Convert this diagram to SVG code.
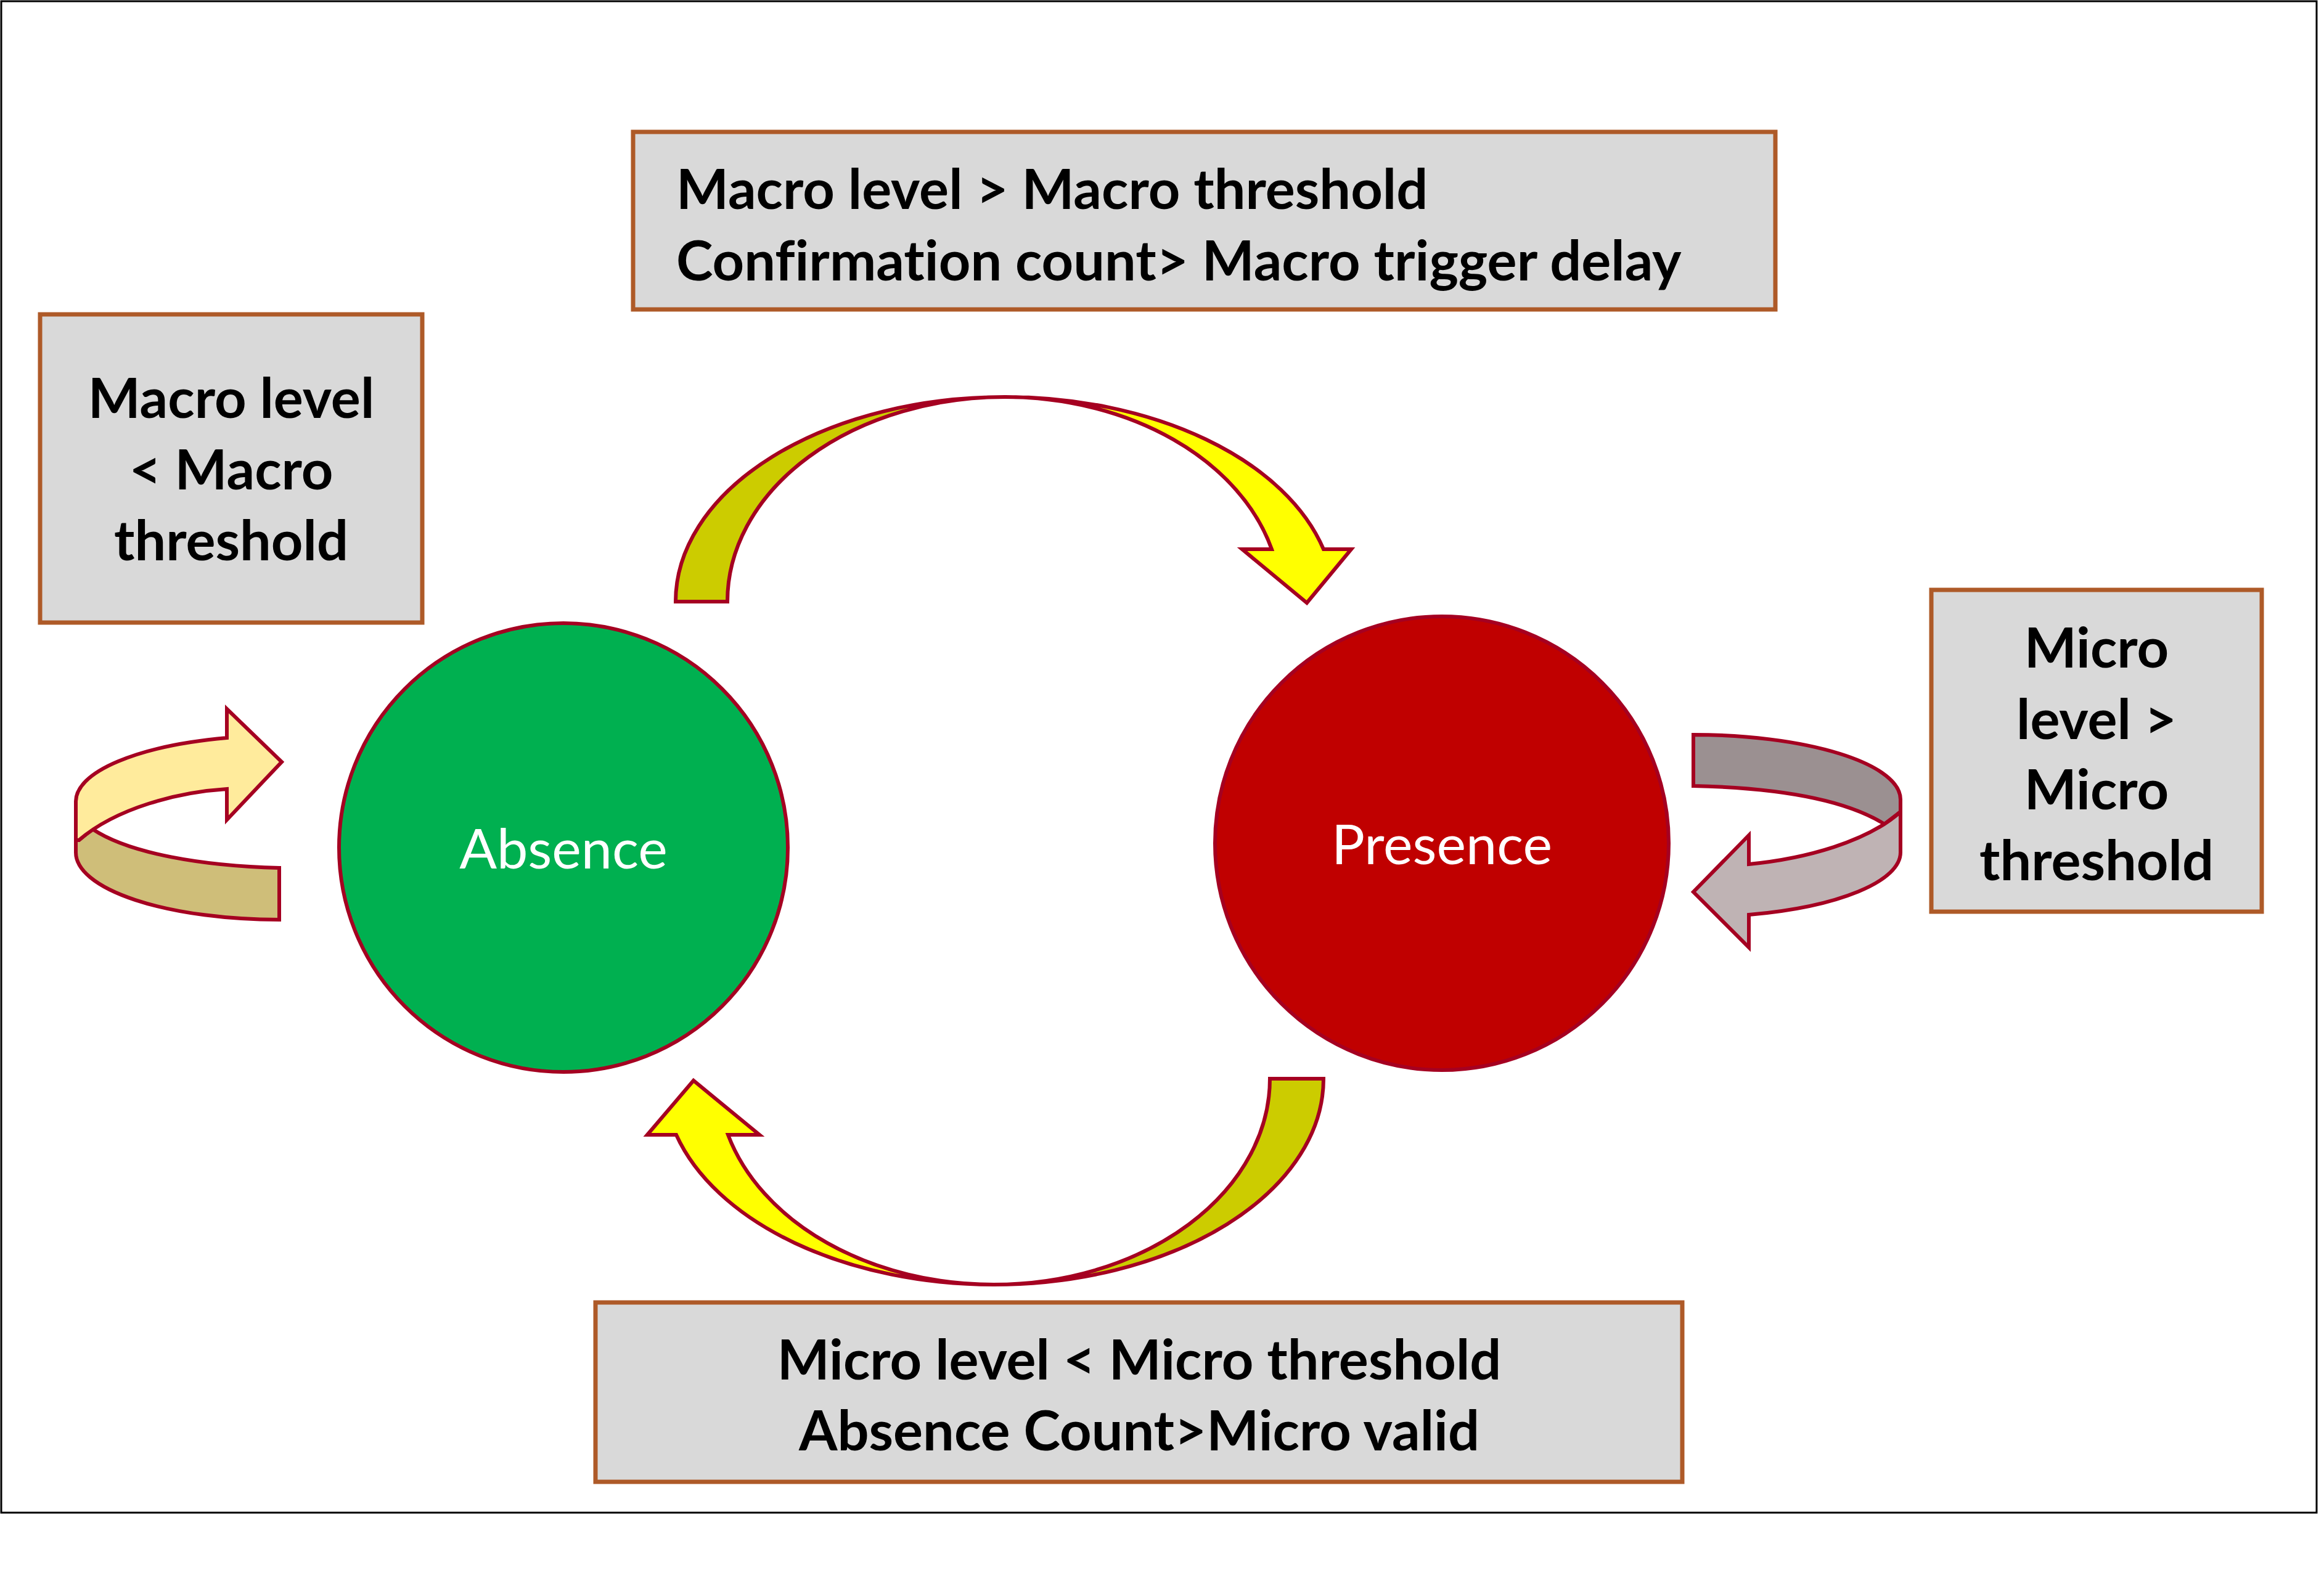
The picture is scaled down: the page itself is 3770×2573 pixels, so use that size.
<svg xmlns="http://www.w3.org/2000/svg" width="3770" height="2573" viewBox="0 0 3770 2573">
<style>
.box{fill:#D9D9D9;stroke:#AE5A28;stroke-width:7}
.lbl{font-family:Lato,"Source Sans Pro","Liberation Sans",sans-serif;font-weight:700;font-size:90px;fill:#000;font-variant-ligatures:none;font-feature-settings:"liga" 0}
.st{font-family:Lato,"Source Sans Pro","Liberation Sans",sans-serif;font-weight:400;font-size:90px;fill:#FFFFFF;text-anchor:middle}
.node{stroke:#A50021;stroke-width:6}
.arr{stroke:#A50021;stroke-width:6;stroke-linejoin:miter;stroke-miterlimit:4}
</style>
<rect x="0" y="0" width="3770" height="2573" fill="#FFFFFF"/>
<rect x="2" y="2" width="3756" height="2452" fill="none" stroke="#000" stroke-width="3"/>

<g id="box-top">
<rect class="box" x="1027" y="214" width="1853" height="288"/>
<text class="lbl" x="1097" y="339">Macro level &gt; Macro threshold</text>
<text class="lbl" x="1097" y="455">Confirmation count&gt; Macro trigger delay</text>
</g>
<g id="box-left">
<rect class="box" x="65" y="510" width="620" height="500"/>
<text class="lbl" x="375" y="678" text-anchor="middle">Macro level</text>
<text class="lbl" x="375" y="794" text-anchor="middle">&lt; Macro</text>
<text class="lbl" x="375" y="909" text-anchor="middle">threshold</text>
</g>
<g id="box-right">
<rect class="box" x="3133" y="957" width="536" height="522"/>
<text class="lbl" x="3401" y="1083" text-anchor="middle">Micro</text>
<text class="lbl" x="3401" y="1199" text-anchor="middle">level &gt;</text>
<text class="lbl" x="3401" y="1313" text-anchor="middle">Micro</text>
<text class="lbl" x="3401" y="1428" text-anchor="middle">threshold</text>
</g>
<g id="box-bottom">
<rect class="box" x="966" y="2113" width="1763" height="291"/>
<text class="lbl" x="1848" y="2238" text-anchor="middle">Micro level &lt; Micro threshold</text>
<text class="lbl" x="1848" y="2353" text-anchor="middle">Absence Count&gt;Micro valid</text>
</g>

<g id="absence">
<circle class="node" cx="914" cy="1375" r="364" fill="#00B050"/>
<text class="st" x="914" y="1409">Absence</text>
</g>
<g id="presence">
<circle class="node" cx="2339" cy="1368" r="368" fill="#C00000"/>
<text class="st" x="2339" y="1402">Presence</text>
</g>

<g id="connectors">
<g id="arrow-absence-to-presence">
<path class="arr" fill="#CCCC00" d="M1096,976 A534,332 0 0 1 1630,644 A450,332 0 0 0 1180,976 Z"/>
<path class="arr" fill="#FFFF00" d="M1630,644 A534,332 0 0 1 2147,891 L2192,891 L2120,978 L2015,891 L2063,891 A448,332 0 0 0 1630,644 Z"/>
</g>
<g id="arrow-presence-to-absence">
<path class="arr" fill="#CCCC00" d="M2147,1750 A535,334 0 0 1 1612,2084 A448,334 0 0 0 2060,1750 Z"/>
<path class="arr" fill="#FFFF00" d="M1612,2084 A535,334 0 0 1 1097,1841 L1050,1841 L1125,1753 L1232,1841 L1181,1841 A448,334 0 0 0 1612,2084 Z"/>
</g>
<g id="loop-absence">
<path class="arr" fill="#CFBE79" d="M123,1363 L123,1383 A330,109 0 0 0 453,1492 L453,1408 C330,1405 210,1385 150,1345 L128,1363 Z"/>
<path class="arr" fill="#FFEB9C" d="M123,1363 L123,1300 A334,107 0 0 1 368,1197 L368,1150 L457,1236 L368,1330 L368,1280 C290,1285 190,1310 128,1363 Z"/>
</g>
<g id="loop-presence">
<path class="arr" fill="#9B9091" d="M2747,1192 A336,105 0 0 1 3083,1297 L3083,1317 L3057,1337 C2990,1295 2880,1278 2747,1275 Z"/>
<path class="arr" fill="#BFB3B4" d="M3083,1317 L3083,1383 A336,105 0 0 1 2837,1484 L2837,1537 L2747,1447 L2837,1355 L2837,1402 C2930,1393 3030,1365 3083,1317 Z"/>
</g>
</g>
</svg>
